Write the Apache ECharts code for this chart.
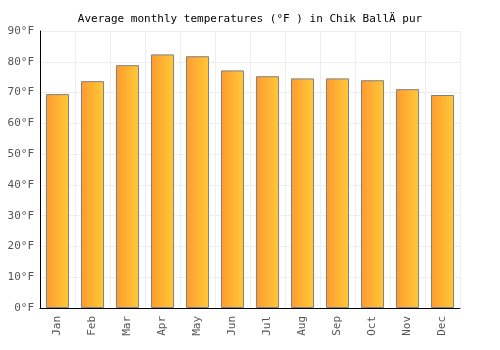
<!DOCTYPE html>
<html>
  <head>
    <meta charset="UTF-8" />
    <style>
      html, body { margin: 0; padding: 0; width: 100%; height: 100%; overflow: hidden; background: #fff; }
      #chart { width: 500px; height: 350px; }
    </style>
    <script src="https://cdn.jsdelivr.net/npm/echarts@6/dist/echarts.min.js"></script>
  </head>
  <body>
    <div id="chart"></div>
    <script>
      const months = ["Jan", "Feb", "Mar", "Apr", "May", "Jun", "Jul", "Aug", "Sep", "Oct", "Nov", "Dec"];
      const temps = [69.5, 73.7, 78.9, 82.4, 81.8, 77.2, 75.3, 74.6, 74.6, 74.0, 71.1, 69.2];

      const chart = echarts.init(document.getElementById("chart"));
      const font = "DejaVu Sans Mono";

      chart.setOption({
        animation: false,
        title: {
          text: "Average monthly temperatures (°F ) in Chik BallÄ pur",
          left: "center",
          top: 9,
          textStyle: { fontFamily: font, fontSize: 11, fontWeight: "normal", color: "#000" }
        },
        grid: { left: 40, right: 40, top: 31, bottom: 42 },
        xAxis: {
          type: "category",
          data: months,
          axisLine: { lineStyle: { color: "#000" } },
          axisTick: { show: false },
          splitLine: { show: true, lineStyle: { color: "#eeeeee" } },
          axisLabel: { rotate: 90, fontFamily: font, fontSize: 11, color: "#555", margin: 8 }
        },
        yAxis: {
          type: "value",
          min: 0,
          max: 90,
          interval: 10,
          axisLine: { show: true, lineStyle: { color: "#000" } },
          axisTick: { show: false },
          splitLine: { lineStyle: { color: "#eeeeee" } },
          axisLabel: { formatter: "{value}°F", fontFamily: font, fontSize: 11, color: "#555", margin: 6 }
        },
        series: [
          {
            type: "bar",
            data: temps,
            barWidth: "66%",
            itemStyle: {
              borderColor: "#808080",
              borderWidth: 1,
              color: new echarts.graphic.LinearGradient(0, 0, 1, 0, [
                { offset: 0, color: "#ff9a30" },
                { offset: 1, color: "#ffca35" }
              ])
            }
          }
        ]
      });
    </script>
  </body>
</html>
